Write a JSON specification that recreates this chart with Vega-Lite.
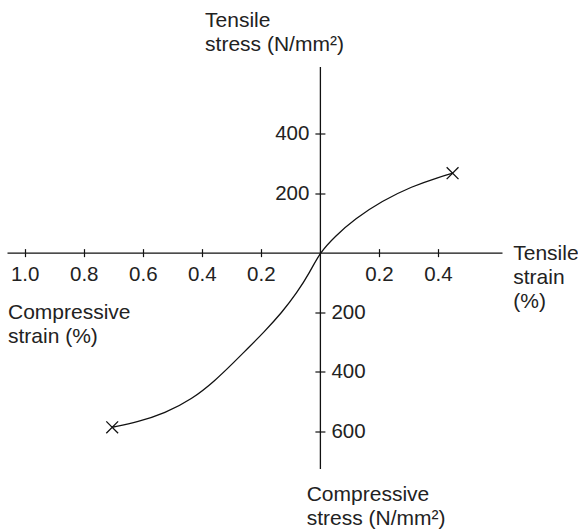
{
  "$schema": "https://vega.github.io/schema/vega-lite/v6.json",
  "width": 495,
  "height": 402,
  "autosize": {"type": "none"},
  "padding": {"left": 7, "top": 66.5, "right": 76, "bottom": 60.5},
  "background": "white",
  "config": {
    "view": {"stroke": null},
    "axis": {
      "grid": false,
      "title": null,
      "labelFont": "Liberation Sans",
      "labelFontSize": 20.5,
      "labelColor": "#222",
      "tickColor": "#111",
      "tickWidth": 1.2,
      "domainColor": "#111",
      "domainWidth": 1.3,
      "labelOverlap": false,
      "labelBound": false,
      "labelFlush": false
    }
  },
  "datasets": {
    "curve": [
      {"strain": -0.7036, "stress": -587.3},
      {"strain": -0.6165, "stress": -569.5},
      {"strain": -0.525, "stress": -540.2},
      {"strain": -0.4336, "stress": -493.1},
      {"strain": -0.3557, "stress": -431.2},
      {"strain": -0.2879, "stress": -365.3},
      {"strain": -0.2439, "stress": -321.6},
      {"strain": -0.1897, "stress": -267.7},
      {"strain": -0.1287, "stress": -201.1},
      {"strain": -0.0779, "stress": -135.6},
      {"strain": -0.0339, "stress": -65.6},
      {"strain": 0, "stress": 0},
      {"strain": 0.0508, "stress": 54.5},
      {"strain": 0.1186, "stress": 113.7},
      {"strain": 0.21, "stress": 173.6},
      {"strain": 0.3117, "stress": 223.0},
      {"strain": 0.4038, "stress": 253.8},
      {"strain": 0.4495, "stress": 267.1}
    ],
    "ends": [
      {"strain": -0.7036, "stress": -587.3},
      {"strain": 0.4495, "stress": 267.1}
    ],
    "labels": [
      {"strain": -0.389, "stress": 760, "label": "Tensile\nstress (N/mm²)"},
      {"strain": -0.0447, "stress": -834, "label": "Compressive\nstress (N/mm²)"},
      {"strain": -1.0567, "stress": -223, "label": "Compressive\nstrain (%)"},
      {"strain": 0.655, "stress": -25, "label": "Tensile\nstrain\n(%)"}
    ]
  },
  "layer": [
    {
      "data": {"name": "curve"},
      "mark": {"type": "line", "interpolate": "basis", "color": "#111", "strokeWidth": 1.3},
      "encoding": {
        "x": {
          "field": "strain", "type": "quantitative",
          "scale": {"domain": [-1.06, 0.6169], "nice": false, "zero": false},
          "axis": {
            "orient": "bottom", "offset": -215.87,
            "values": [-1.0, -0.8, -0.6, -0.4, -0.2, 0.2, 0.4],
            "labelExpr": "format(abs(datum.value), '.1f')",
            "tickSize": 4, "labelPadding": 8, "domain": true
          }
        },
        "y": {
          "field": "stress", "type": "quantitative",
          "scale": {"domain": [-726, 626], "nice": false, "zero": false},
          "axis": {
            "orient": "left", "offset": -312.9,
            "values": [-600, -400, -200, 200, 400],
            "labelExpr": "datum.value > 0 ? format(datum.value, 'd') : ''",
            "tickSize": 5, "labelPadding": 6, "domain": true
          }
        }
      }
    },
    {
      "data": {"name": "ends"},
      "mark": {"type": "point", "shape": "M-1,-1L1,1M-1,1L1,-1", "filled": false, "size": 140, "color": "#111", "strokeWidth": 1.3, "opacity": 1},
      "encoding": {
        "x": {
          "field": "strain", "type": "quantitative",
          "axis": {
            "orient": "top", "offset": -186.13,
            "values": [-1.0, -0.8, -0.6, -0.4, -0.2, 0.2, 0.4],
            "labels": false, "tickSize": 4, "domain": false
          }
        },
        "y": {
          "field": "stress", "type": "quantitative",
          "axis": {
            "orient": "right", "offset": -182.1,
            "values": [-600, -400, -200, 200, 400],
            "labelExpr": "datum.value < 0 ? format(-datum.value, 'd') : ''",
            "tickSize": 5, "labelPadding": 6, "domain": false
          }
        }
      }
    },
    {
      "data": {"name": "labels"},
      "mark": {"type": "text", "align": "left", "baseline": "alphabetic", "lineBreak": "\n", "lineHeight": 24, "font": "Liberation Sans", "fontSize": 21, "color": "#222"},
      "encoding": {
        "x": {"field": "strain", "type": "quantitative", "axis": null},
        "y": {"field": "stress", "type": "quantitative", "axis": null},
        "text": {"field": "label", "type": "nominal"}
      }
    }
  ],
  "resolve": {"axis": {"x": "independent", "y": "independent"}}
}
